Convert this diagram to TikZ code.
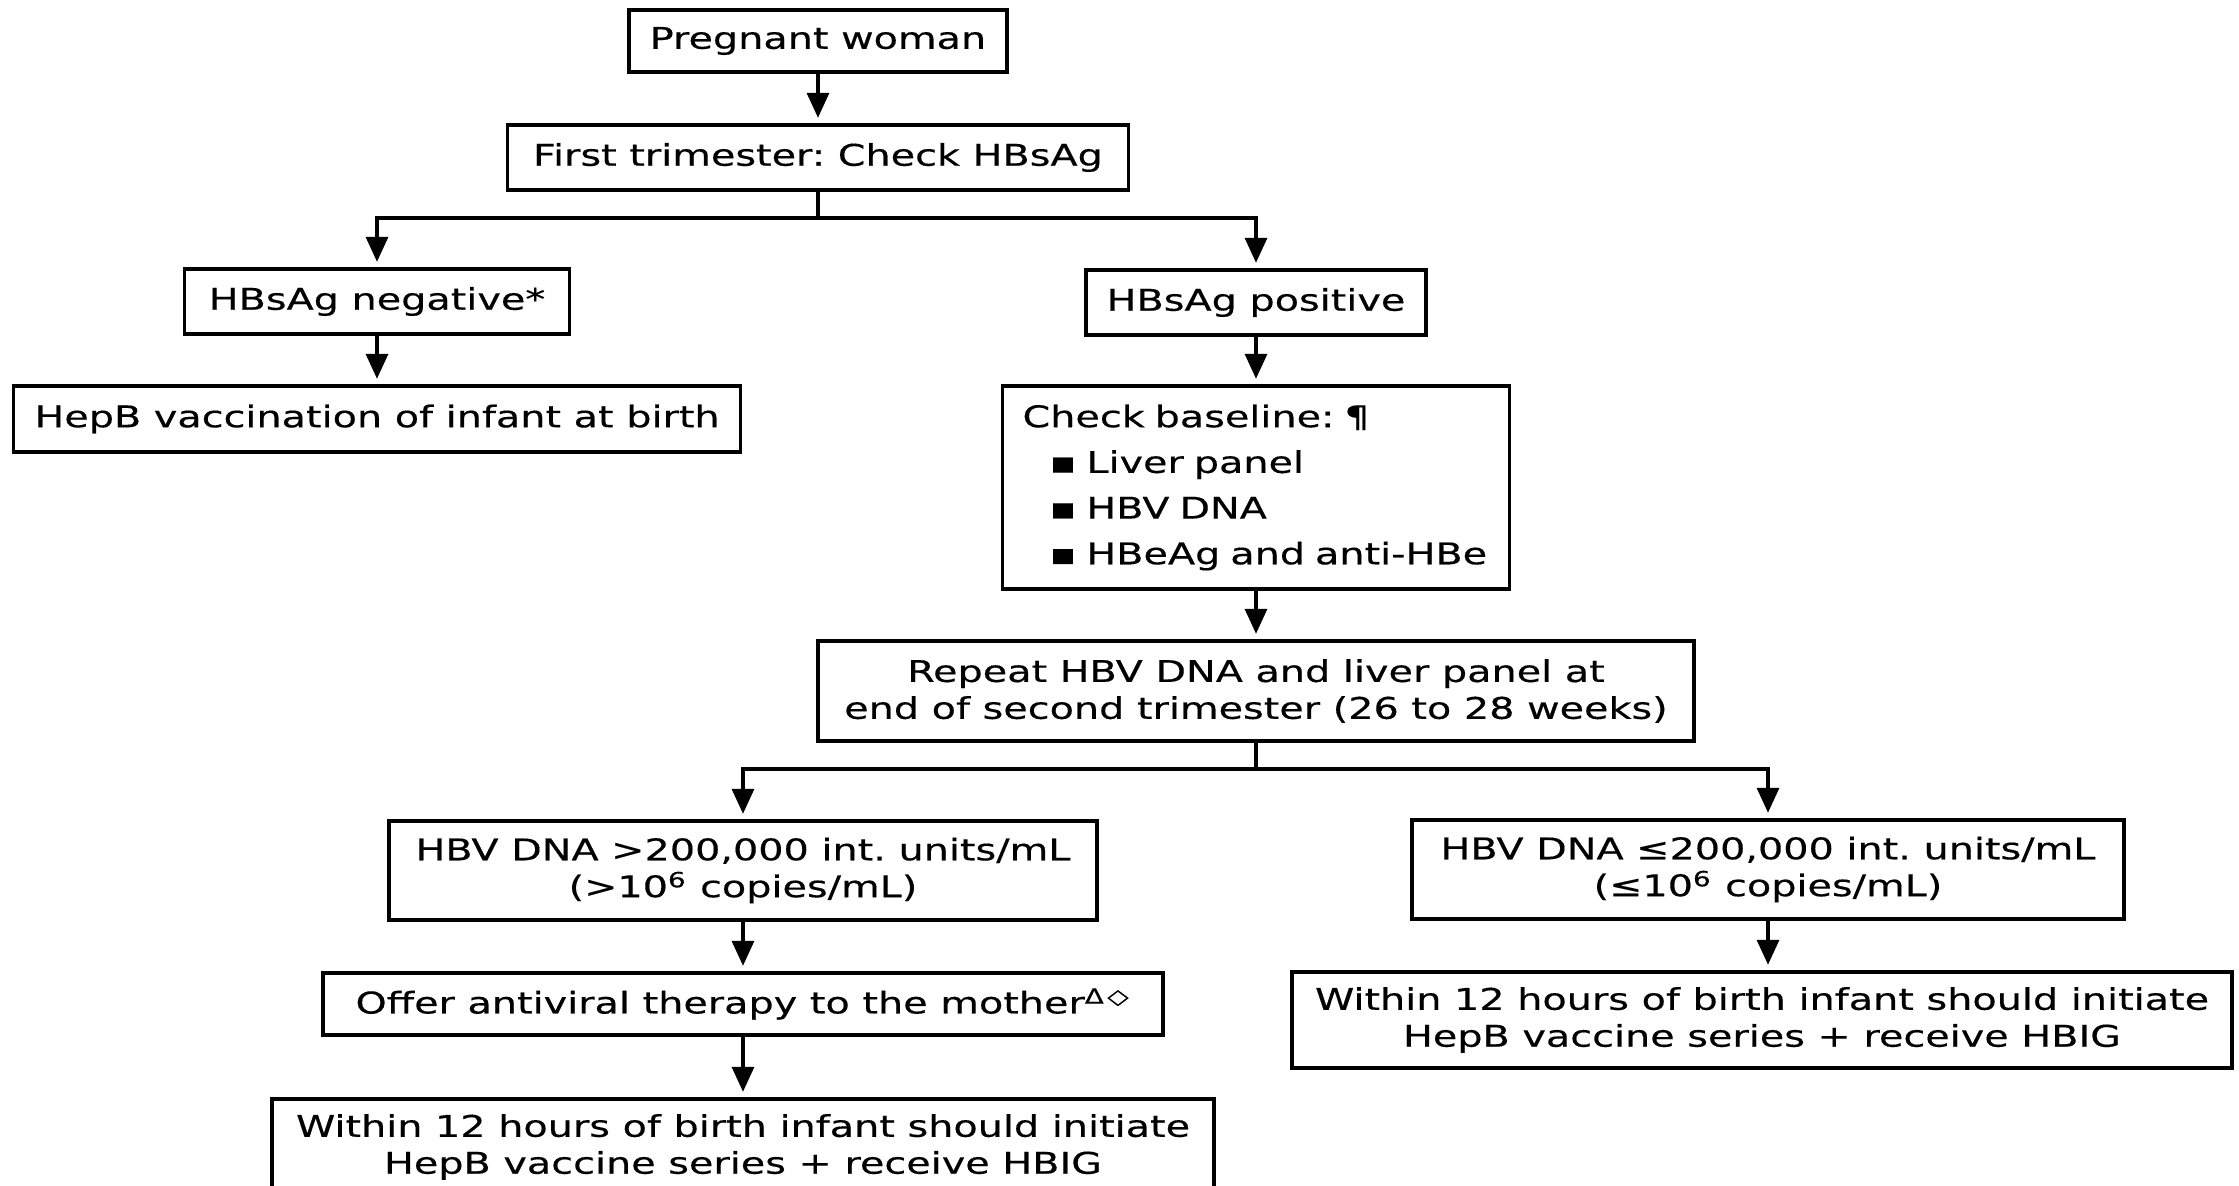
\documentclass[tikz,border=0pt]{standalone}
\usepackage{fontspec}
\setmainfont[FakeStretch=1.33, FakeBold=0.4]{DejaVu Sans}
\usepackage{tikz}
\usetikzlibrary{
  arrows.meta,
  positioning
}
\frenchspacing

\begin{document}
\begin{tikzpicture}[
  flowbox/.style={
    draw=black,
    line width=1.1pt,
    font=\fontsize{8.5}{10.5}\selectfont,
    inner sep=2pt,
    align=center
  },
  listbox/.style={
    flowbox,
    align=left,
    inner xsep=0.2cm
  },
  flowline/.style={
    line width=0.95pt,
    black
  },
  flowarrow/.style={
    flowline,
    -{Triangle[length=2.5mm, width=2.2mm]},
    shorten >=1.5pt
  }
]
  \useasboundingbox (0,0) rectangle (22.39,-11.86);

  % Screening
  \node[flowbox, minimum width=3.78cm, minimum height=0.62cm] (preg) at (8.18, -0.41) {Pregnant woman};
  \node[flowbox, minimum width=6.21cm, minimum height=0.65cm] (first) at (8.18, -1.575) {First trimester: Check HBsAg};

  % HBsAg result
  \node[flowbox, minimum width=3.85cm, minimum height=0.65cm] (neg) at (3.77, -3.015) {HBsAg negative*};
  \node[flowbox, minimum width=3.40cm, minimum height=0.65cm] (pos) at (12.56, -3.025) {HBsAg positive};
  \node[flowbox, minimum width=7.27cm, minimum height=0.66cm] (vacc) at (3.77, -4.19) {HepB vaccination of infant at birth};
  \node[listbox, text width=4.67cm, minimum height=2.03cm] (base) at (12.56, -4.875) {Check baseline: ¶\\[2.5pt]
    \hspace*{0.27cm}▪ Liver panel\\[2.5pt]
    \hspace*{0.27cm}▪ HBV DNA\\[2.5pt]
    \hspace*{0.27cm}▪ HBeAg and anti-HBe};
  \node[flowbox, minimum width=8.76cm, minimum height=1.00cm] (repeat) at (12.56, -6.91) {Repeat HBV DNA and liver panel at\\end of second trimester (26 to 28 weeks)};

  % HBV DNA result
  \node[flowbox, minimum width=7.08cm, minimum height=0.99cm] (high) at (7.43, -8.705) {HBV DNA >200,000 int. units/mL\\(>10\textsuperscript{6} copies/mL)};
  \node[flowbox, minimum width=7.12cm, minimum height=0.99cm] (low) at (17.68, -8.695) {HBV DNA ≤200,000 int. units/mL\\(≤10\textsuperscript{6} copies/mL)};
  \node[flowbox, minimum width=8.40cm, minimum height=0.62cm] (offer) at (7.43, -10.04) {Offer antiviral therapy to the mother\textsuperscript{Δ\,◇}};
  \node[flowbox, minimum width=9.42cm, minimum height=0.96cm] (infL) at (7.43, -11.47) {Within 12 hours of birth infant should initiate\\HepB vaccine series + receive HBIG};
  \node[flowbox, minimum width=9.40cm, minimum height=0.96cm] (infR) at (17.62, -10.20) {Within 12 hours of birth infant should initiate\\HepB vaccine series + receive HBIG};

  % Forks
  \coordinate (fork1) at (8.18, -2.18);
  \coordinate (fork2) at (12.56, -7.69);

  % Connectors
  \draw[flowarrow] (preg.south) -- (first.north);
  \draw[flowline] (first.south) -- (fork1);
  \draw[flowarrow] (fork1) -| (neg.north);
  \draw[flowarrow] (fork1) -| (pos.north);
  \draw[flowarrow] (neg.south) -- (vacc.north);
  \draw[flowarrow] (pos.south) -- (base.north);
  \draw[flowarrow] (base.south) -- (repeat.north);
  \draw[flowline] (repeat.south) -- (fork2);
  \draw[flowarrow] (fork2) -| (high.north);
  \draw[flowarrow] (fork2) -| (low.north);
  \draw[flowarrow] (high.south) -- (offer.north);
  \draw[flowarrow] (offer.south) -- (infL.north);
  \draw[flowarrow] (low.south) -- (low.south |- infR.north);
\end{tikzpicture}
\end{document}
